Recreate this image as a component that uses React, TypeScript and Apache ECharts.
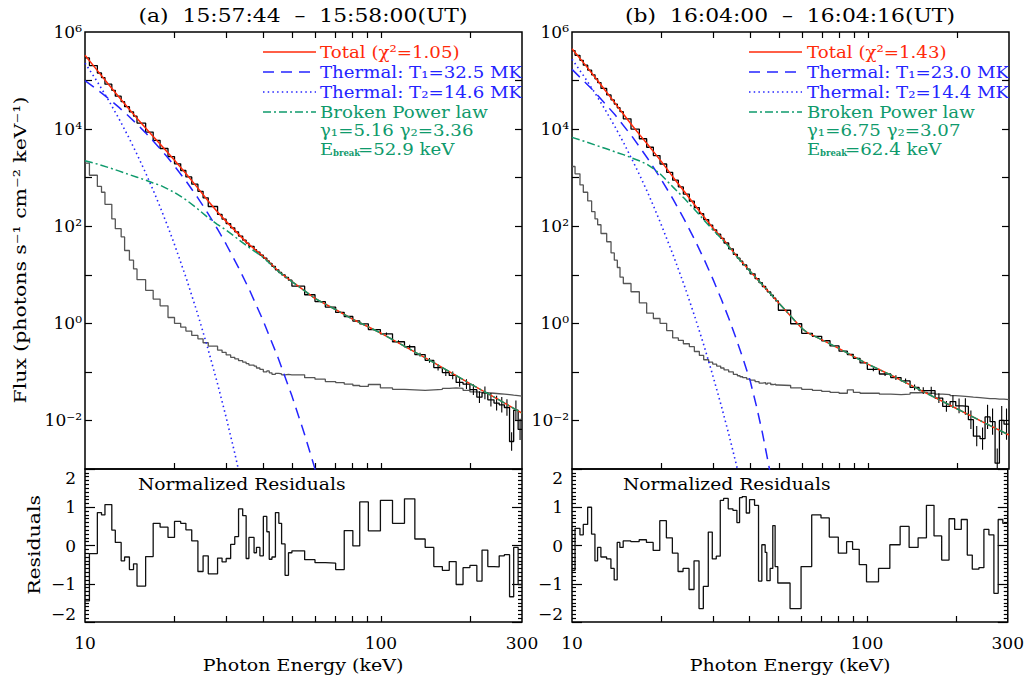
import React, { useEffect, useRef } from "react";
import * as echarts from "echarts";

const SERIF = '"DejaVu Serif", "Liberation Serif", serif';
const RED = "#ff2a0a";
const BLUE = "#2424ff";
const GREEN = "#0f9a6c";
const GRAY = "#555555";

// ---------- axis ranges, ticks / labels ----------
const energyRange = [10, 300];
const fluxRange = [0.001, 1e6];
const residRange = [-2, 2];
const energyTickValues = [10, 100, 300];
const energyTickLabels = ["10", "100", "300"];
const energyTicks = [20, 30, 40, 50, 60, 70, 80, 90, 100, 200];
const fluxLabelExponents = [-2, 0, 2, 4, 6];
const fluxTickLabels = ["10⁻²", "10⁰", "10²", "10⁴", "10⁶"];
const fluxTicks = [0.01, 0.1, 1, 10, 100, 1000, 10000, 100000];
const residTickValues = [-2, -1, 0, 1, 2];
const residTickLabels = ["−2", "−1", "0", "1", "2"];

// ---------- panel (a) ----------
const titleA = "(a)  15:57:44  –  15:58:00(UT)";
const binEdgesA = [10, 10.35, 11.01, 11.37, 11.68, 12.32, 12.66, 13.25, 13.61, 14.13, 14.59, 14.99, 16.03, 17.0, 17.94, 19.08, 20.07, 21.06, 21.93, 22.95, 24.08, 25.07, 26.1, 28.06, 29.06, 30.0, 31.07, 32.08, 33.04, 34.12, 35.05, 35.81, 37.28, 37.98, 39.01, 40.07, 41.17, 41.95, 42.85, 44.02, 45.21, 46.19, 47.45, 48.73, 50.05, 55.26, 59.9, 64.91, 70.35, 75.2, 80.42, 84.85, 90.73, 99.66, 109.5, 120.2, 130.3, 141.2, 151.0, 161.4, 170.3, 179.7, 189.6, 200.0, 211.1, 219.8, 229.9, 241.3, 251.2, 261.5, 272.3, 281.2, 291.1, 300];
// log10 of flux (photons s^-1 cm^-2 keV^-1)
const observedLogA = [5.467, 5.309, 5.156, 5.062, 4.925, 4.798, 4.679, 4.566, 4.463, 4.357, 4.266, 4.124, 3.938, 3.77, 3.601, 3.434, 3.286, 3.148, 3.015, 2.865, 2.719, 2.584, 2.406, 2.242, 2.146, 2.055, 1.967, 1.884, 1.798, 1.713, 1.652, 1.587, 1.519, 1.468, 1.405, 1.343, 1.286, 1.235, 1.172, 1.101, 1.047, 0.999, 0.944, 0.888, 0.765, 0.589, 0.449, 0.335, 0.225, 0.141, 0.048, -0.011, -0.128, -0.217, -0.379, -0.482, -0.644, -0.762, -0.912, -1.014, -1.073, -1.216, -1.253, -1.367, -1.521, -1.432, -1.575, -1.643, -1.678, -1.733, -2.434, -1.79, -2.185];
const backgroundLogA = [3.3, 3.05, 2.82, 2.7, 2.45, 2.15, 1.95, 1.78, 1.5, 1.3, 1.12, 0.9, 0.68, 0.5, 0.36, 0.12, 0.0, -0.08, -0.16, -0.25, -0.32, -0.4, -0.47, -0.55, -0.6, -0.65, -0.7, -0.73, -0.77, -0.8, -0.83, -0.86, -0.88, -0.92, -0.95, -1.0, -0.98, -1.02, -1.05, -1.03, -1.04, -1.06, -1.05, -1.06, -1.06, -1.12, -1.15, -1.2, -1.22, -1.25, -1.28, -1.3, -1.26, -1.33, -1.36, -1.37, -1.38, -1.37, -1.36, -1.34, -1.33, -1.34, -1.38, -1.41, -1.42, -1.43, -1.44, -1.45, -1.46, -1.47, -1.48, -1.49, -1.5];
const residualsA = [-1.45, -0.21, 0.86, 0.8, 1.07, 0.4, 0.08, -0.4, -0.3, -0.63, -0.48, -1.06, -0.29, 0.58, 0.48, 0.21, 0.63, 0.58, 0.41, 0.12, -0.68, -0.27, -0.74, -0.33, -0.43, -0.34, 0.03, 0.23, 0.96, 0.78, -0.34, 0.21, -0.19, -0.05, -0.27, 0.76, 0.36, -0.36, -0.3, 0.86, 0.58, 0.04, -0.78, -0.19, -0.14, -0.37, -0.45, -0.46, -0.63, 0.39, -0.01, 1.14, 0.38, 1.18, 0.58, 1.22, 0.17, -0.05, -0.55, -0.65, -0.42, -1.02, -0.58, -0.52, -0.93, -0.12, -0.55, -0.56, -0.27, -0.24, -1.34, -0.05, -1.02];
const errorBarStartA = 53;
const errorLogA = [0.03, 0.03, 0.04, 0.04, 0.05, 0.06, 0.07, 0.08, 0.09, 0.1, 0.11, 0.12, 0.13, 0.14, 0.15, 0.16, 0.17, 0.19, 0.2, 0.22];
const modelEnergyA = [10, 11, 12, 13, 14, 15, 16, 17, 18, 19, 20, 22, 24, 26, 28, 30, 35, 40, 45, 50, 55, 60, 70, 80, 100, 120, 150, 200, 250, 300];
const totalLogA = [5.52, 5.21, 4.925, 4.666, 4.433, 4.221, 4.027, 3.848, 3.681, 3.521, 3.368, 3.075, 2.795, 2.528, 2.297, 2.1, 1.678, 1.381, 1.077, 0.862, 0.68, 0.51, 0.29, 0.09, -0.2, -0.47, -0.8, -1.24, -1.57, -1.85];
const powerLawLogA = [3.35, 3.28, 3.21, 3.14, 3.07, 3.01, 2.95, 2.89, 2.84, 2.77, 2.7, 2.54, 2.36, 2.18, 2.04, 1.92, 1.61, 1.36, 1.07, 0.86, 0.68, 0.51, 0.29, 0.09, -0.2, -0.47, -0.8, -1.24, -1.57, -1.85];
const thermal1EnergyA = [10, 11, 12, 13, 14, 15, 16, 17, 18, 19, 20, 22, 24, 26, 28, 30, 33, 36, 40, 45, 50, 55, 60, 65];
const thermal1LogA = [5.0, 4.814, 4.631, 4.452, 4.275, 4.1, 3.928, 3.757, 3.587, 3.419, 3.252, 2.921, 2.594, 2.27, 1.948, 1.629, 1.153, 0.682, 0.057, -0.718, -1.487, -2.252, -3.013, -3.771];
const thermal2EnergyA = [10, 11, 12, 13, 14, 15, 16, 17, 18, 19, 20, 22, 24, 26, 28, 30, 32, 34];
const thermal2LogA = [5.36, 4.978, 4.599, 4.223, 3.85, 3.479, 3.11, 2.743, 2.377, 2.012, 1.649, 0.926, 0.206, -0.511, -1.225, -1.937, -2.647, -3.356];
const legendA = ["Total (χ²=1.05)", "Thermal: T₁=32.5 MK", "Thermal: T₂=14.6 MK", "Broken Power law", "γ₁=5.16 γ₂=3.36", "=52.9 keV"];

// ---------- panel (b) ----------
const titleB = "(b)  16:04:00  –  16:04:16(UT)";
const binEdgesB = [10, 10.24, 10.64, 10.92, 11.3, 11.65, 11.96, 12.21, 12.53, 13.1, 13.55, 13.9, 14.23, 14.53, 14.91, 15.83, 16.89, 17.88, 18.84, 19.84, 20.89, 21.89, 22.88, 23.79, 24.93, 25.92, 26.95, 27.87, 28.97, 29.89, 30.83, 31.81, 32.65, 33.85, 35.11, 36.22, 36.98, 37.76, 38.96, 39.98, 41.57, 42.88, 44.0, 45.16, 45.75, 46.95, 47.93, 48.81, 49.84, 54.84, 59.76, 64.94, 69.82, 74.49, 79.92, 85.27, 89.35, 94.11, 99.6, 109.4, 119.5, 129.5, 138.9, 149.0, 159.0, 168.7, 179.1, 189.7, 198.2, 208.7, 218.7, 227.4, 239.5, 249.0, 258.9, 269.2, 278.4, 288.6, 300];
const observedLogB = [5.618, 5.52, 5.416, 5.317, 5.213, 5.117, 5.037, 4.958, 4.838, 4.704, 4.602, 4.516, 4.44, 4.359, 4.212, 4.0, 3.801, 3.626, 3.455, 3.281, 3.109, 2.949, 2.809, 2.662, 2.515, 2.382, 2.258, 2.136, 2.024, 1.926, 1.836, 1.75, 1.654, 1.535, 1.421, 1.341, 1.28, 1.202, 1.115, 1.02, 0.921, 0.837, 0.759, 0.702, 0.646, 0.578, 0.521, 0.462, 0.269, -0.009, -0.205, -0.268, -0.359, -0.465, -0.573, -0.642, -0.72, -0.815, -0.947, -1.043, -1.117, -1.187, -1.319, -1.386, -1.385, -1.539, -1.711, -1.611, -1.7, -1.711, -1.984, -2.323, -2.376, -1.928, -2.025, -2.88, -2.0, -2.076];
const backgroundLogB = [3.23, 3.08, 2.85, 2.7, 2.52, 2.3, 2.15, 2.03, 1.85, 1.68, 1.45, 1.3, 1.15, 0.95, 0.82, 0.65, 0.42, 0.21, 0.1, 0.0, -0.15, -0.3, -0.35, -0.42, -0.48, -0.58, -0.66, -0.75, -0.8, -0.84, -0.88, -0.92, -0.96, -1.0, -1.05, -1.08, -1.1, -1.12, -1.15, -1.17, -1.2, -1.23, -1.22, -1.25, -1.23, -1.26, -1.25, -1.27, -1.28, -1.33, -1.36, -1.38, -1.4, -1.42, -1.44, -1.37, -1.42, -1.44, -1.44, -1.46, -1.47, -1.46, -1.43, -1.42, -1.44, -1.46, -1.47, -1.49, -1.5, -1.51, -1.52, -1.53, -1.54, -1.55, -1.55, -1.56, -1.56, -1.57];
const residualsB = [-0.65, 0.45, 0.28, 0.55, 1.0, 0.3, -0.4, -0.05, -0.3, -0.35, -0.6, -0.9, 0.08, -0.05, 0.12, 0.1, 0.15, 0.08, -0.13, 0.65, 0.2, -0.2, -0.68, -0.6, -1.15, -0.4, -1.65, -1.07, 0.35, -0.35, -0.28, 1.18, 1.23, 0.96, 0.92, 0.6, 1.25, 1.28, 0.85, 1.2, 1.05, -0.93, 0.02, -0.18, -0.92, -0.6, 0.52, -0.55, -0.98, -1.65, -0.55, 0.8, 0.72, 0.22, -0.2, 0.1, -0.1, -0.5, -0.95, -0.6, 0.02, 0.5, -0.05, 0.2, 1.05, 0.25, -0.38, 0.7, 0.42, 0.68, -0.25, -0.62, -0.58, 0.42, 0.28, -1.25, 0.68, 0.58];
const errorBarStartB = 58;
const errorLogB = [0.04, 0.04, 0.05, 0.05, 0.06, 0.07, 0.08, 0.1, 0.11, 0.13, 0.15, 0.17, 0.19, 0.21, 0.23, 0.25, 0.27, 0.3, 0.3, 0.32];
const modelEnergyB = [10, 11, 12, 13, 14, 15, 16, 17, 18, 19, 20, 22, 24, 26, 28, 30, 33, 36, 40, 45, 50, 55, 60, 62.4, 70, 80, 100, 120, 150, 200, 250, 300];
const totalLogB = [5.655, 5.349, 5.059, 4.786, 4.53, 4.292, 4.069, 3.871, 3.688, 3.511, 3.341, 3.005, 2.71, 2.436, 2.183, 1.96, 1.678, 1.388, 1.073, 0.73, 0.42, 0.14, -0.11, -0.19, -0.34, -0.52, -0.84, -1.07, -1.37, -1.76, -2.06, -2.3];
const powerLawLogB = [3.83, 3.75, 3.67, 3.6, 3.53, 3.47, 3.4, 3.34, 3.27, 3.17, 3.06, 2.8, 2.57, 2.34, 2.12, 1.92, 1.66, 1.38, 1.07, 0.73, 0.42, 0.14, -0.11, -0.19, -0.34, -0.52, -0.84, -1.07, -1.37, -1.76, -2.06, -2.3];
const thermal1EnergyB = [10, 12, 14, 16, 18, 20, 22, 24, 26, 28, 30, 32, 34, 36, 38, 40, 42, 44, 46, 48];
const thermal1LogB = [5.23, 4.75, 4.29, 3.84, 3.4, 2.97, 2.55, 2.13, 1.72, 1.31, 0.9, 0.49, 0.08, -0.34, -0.76, -1.18, -1.7, -2.25, -2.85, -3.45];
const thermal2EnergyB = [10, 11, 12, 13, 14, 15, 16, 17, 18, 19, 20, 22, 24, 26, 28, 30, 32, 34, 36, 38];
const thermal2LogB = [5.44, 5.08, 4.73, 4.38, 4.04, 3.7, 3.36, 3.03, 2.7, 2.37, 2.04, 1.4, 0.77, 0.14, -0.48, -1.1, -1.71, -2.32, -2.93, -3.54];
const legendB = ["Total (χ²=1.43)", "Thermal: T₁=23.0 MK", "Thermal: T₂=14.4 MK", "Broken Power law", "γ₁=6.75 γ₂=3.07", "=62.4 keV"];

const yTitle = "Flux (photons s⁻¹ cm⁻² keV⁻¹)";
const residYTitle = "Residuals";
const xTitle = "Photon Energy (keV)";
const residNote = "Normalized Residuals";

// ---------- helpers ----------
const stepLog = (edges: number[], logs: number[]) => {
  const d: number[][] = logs.map((v, i) => [edges[i], Math.pow(10, v)]);
  d.push([edges[edges.length - 1], Math.pow(10, logs[logs.length - 1])]);
  return d;
};
const stepLin = (edges: number[], vals: number[]) => {
  const d: number[][] = vals.map((v, i) => [edges[i], v]);
  d.push([edges[edges.length - 1], vals[vals.length - 1]]);
  return d;
};
const curve = (es: number[], logs: number[]) => es.map((e, i) => [e, Math.pow(10, logs[i])]);
// vertical error bars as one broken line: low, high, gap, ...
const errorBarLine = (edges: number[], logs: number[], start: number, errs: number[]) => {
  const out: any[] = [];
  errs.forEach((er, k) => {
    const i = start + k;
    const c = Math.sqrt(edges[i] * edges[i + 1]);
    out.push([c, Math.max(Math.pow(10, logs[i] - er), 1.02e-3)]);
    out.push([c, Math.pow(10, logs[i] + er)]);
    out.push([c, null]);
  });
  return out;
};

const T = (text: string, x: number, y: number, o: any = {}) => ({
  type: "text",
  x,
  y,
  rotation: o.rot || 0,
  scaleX: o.sx ?? 1.1,
  silent: true,
  style: {
    text,
    fill: o.color || "#000",
    fontSize: o.size || 17,
    fontFamily: SERIF,
    fontWeight: o.weight || "normal",
    align: o.align || "left",
    verticalAlign: "middle",
  },
});
const L = (x1: number, x2: number, y: number, color: string, dash: number[] | null) => ({
  type: "line",
  silent: true,
  shape: { x1, y1: y, x2, y2: y },
  style: { stroke: color, lineWidth: 1.5, lineDash: dash || undefined },
});

const DASH = [11, 7];
const DOT = [1.5, 3.2];
const DASHDOT = [8, 3, 2, 3];

const legendGraphics = (lx1: number, lx2: number, tx: number, texts: string[]) => {
  const rows = [52, 72, 92, 112, 130, 149];
  return [
    L(lx1, lx2, rows[0], RED, null),
    T(texts[0], tx, rows[0], { color: RED, sx: 1.07 }),
    L(lx1, lx2, rows[1], BLUE, DASH),
    T(texts[1], tx, rows[1], { color: BLUE, sx: 1.07 }),
    L(lx1, lx2, rows[2], BLUE, DOT),
    T(texts[2], tx, rows[2], { color: BLUE, sx: 1.07 }),
    L(lx1, lx2, rows[3], GREEN, DASHDOT),
    T(texts[3], tx, rows[3], { color: GREEN, sx: 1.07 }),
    T(texts[4], tx, rows[4], { color: GREEN, sx: 1.07 }),
    T("E", tx, rows[5], { color: GREEN, sx: 1.07 }),
    T("break", tx + 13, rows[5] + 4, { color: GREEN, sx: 1.0, size: 8.5, weight: "bold" }),
    T(texts[5], tx + 38, rows[5], { color: GREEN, sx: 1.07 }),
  ];
};

const TICK_LINE = { color: "#000", width: 1.2 };
const NO_LINE = { show: false, onZero: false };

const xAx = (gridIndex: number, labels: boolean, position: string) => ({
  type: "log",
  logBase: 10,
  gridIndex,
  position,
  min: energyRange[0],
  max: energyRange[1],
  axisLine: NO_LINE,
  axisTick: { show: true, inside: true, length: 6, lineStyle: TICK_LINE, customValues: energyTicks },
  splitLine: { show: false },
  minorTick: { show: false },
  axisLabel: labels
    ? {
        show: true,
        fontSize: 17,
        fontFamily: SERIF,
        color: "#000",
        margin: 12,
        showMinLabel: true,
        showMaxLabel: true,
        formatter: (v: number) => {
          const i = energyTickValues.findIndex((t) => Math.abs(Math.log10(t) - Math.log10(v)) < 0.01);
          return i >= 0 ? energyTickLabels[i] : "";
        },
      }
    : { show: false },
});
const fluxAx = (gridIndex: number, labels: boolean, position: string) => ({
  type: "log",
  logBase: 10,
  gridIndex,
  position,
  min: fluxRange[0],
  max: fluxRange[1],
  splitNumber: 9,
  axisLine: NO_LINE,
  axisTick: { show: true, inside: true, length: 7, lineStyle: TICK_LINE, customValues: fluxTicks },
  splitLine: { show: false },
  minorTick: { show: false },
  axisLabel: labels
    ? {
        fontSize: 17,
        fontFamily: SERIF,
        color: "#000",
        margin: 3,
        showMinLabel: true,
        showMaxLabel: true,
        formatter: (v: number) => {
          const e = Math.round(Math.log10(v));
          const i = fluxLabelExponents.indexOf(e);
          return i >= 0 ? fluxTickLabels[i] : "";
        },
      }
    : { show: false },
});
const residAx = (gridIndex: number, labels: boolean, position: string) => ({
  type: "value",
  gridIndex,
  position,
  min: residRange[0],
  max: residRange[1],
  interval: 1,
  axisLine: NO_LINE,
  axisTick: { show: true, inside: true, length: 10, lineStyle: TICK_LINE },
  minorTick: { show: true, splitNumber: 10, length: 4, lineStyle: TICK_LINE },
  splitLine: { show: false },
  axisLabel: labels
    ? {
        fontSize: 17,
        fontFamily: SERIF,
        color: "#000",
        margin: 9,
        showMinLabel: true,
        showMaxLabel: true,
        verticalAlignMaxLabel: "top",
        verticalAlignMinLabel: "bottom",
        formatter: (v: number) => {
          const i = residTickValues.indexOf(Math.round(v));
          return i >= 0 ? residTickLabels[i] : "";
        },
      }
    : { show: false },
});

const panelSeries = (
  ti: number,
  ri: number,
  edges: number[],
  obs: number[],
  bg: number[],
  res: number[],
  errStart: number,
  errs: number[],
  mE: number[],
  total: number[],
  pl: number[],
  t1E: number[],
  t1: number[],
  t2E: number[],
  t2: number[]
) => {
  const base = { type: "line", symbol: "none", silent: true, xAxisIndex: ti, yAxisIndex: ti, clip: true };
  return [
    { ...base, name: "background", step: "end", data: stepLog(edges, bg), lineStyle: { color: GRAY, width: 1.3 } },
    { ...base, name: "observed", step: "end", data: stepLog(edges, obs), lineStyle: { color: "#000", width: 1.3 } },
    { ...base, name: "errors", connectNulls: false, data: errorBarLine(edges, obs, errStart, errs), lineStyle: { color: "#000", width: 1.1 } },
    { ...base, name: "total", data: curve(mE, total), lineStyle: { color: RED, width: 1.5 } },
    { ...base, name: "thermal1", data: curve(t1E, t1), lineStyle: { color: BLUE, width: 1.5, type: DASH } },
    { ...base, name: "thermal2", data: curve(t2E, t2), lineStyle: { color: BLUE, width: 1.6, type: DOT } },
    { ...base, name: "powerlaw", data: curve(mE, pl), lineStyle: { color: GREEN, width: 1.5, type: DASHDOT } },
    {
      type: "line",
      name: "residuals",
      symbol: "none",
      silent: true,
      xAxisIndex: ri,
      yAxisIndex: ri,
      step: "end",
      data: stepLin(edges, res),
      lineStyle: { color: "#111", width: 1.3 },
    },
  ];
};

export default function App() {
  const ref = useRef<HTMLDivElement>(null);
  useEffect(() => {
    if (!ref.current) return;
    const chart = echarts.init(ref.current, null, { renderer: "svg" });
    const gridStyle = { show: true, borderColor: "#000", borderWidth: 1.5, backgroundColor: "transparent" };
    const option: any = {
      animation: false,
      backgroundColor: "#fff",
      textStyle: { fontFamily: SERIF },
      grid: [
        { ...gridStyle, left: 85, top: 32, width: 437, height: 437 },
        { ...gridStyle, left: 85, top: 469, width: 437, height: 153 },
        { ...gridStyle, left: 572, top: 32, width: 437, height: 437 },
        { ...gridStyle, left: 572, top: 469, width: 437, height: 153 },
      ],
      xAxis: [
        xAx(0, false, "bottom"),
        xAx(1, true, "bottom"),
        xAx(2, false, "bottom"),
        xAx(3, true, "bottom"),
        xAx(0, false, "top"),
        xAx(2, false, "top"),
      ],
      yAxis: [
        fluxAx(0, true, "left"),
        residAx(1, true, "left"),
        fluxAx(2, true, "left"),
        residAx(3, true, "left"),
        fluxAx(0, false, "right"),
        residAx(1, false, "right"),
        fluxAx(2, false, "right"),
        residAx(3, false, "right"),
      ],
      series: [
        ...panelSeries(0, 1, binEdgesA, observedLogA, backgroundLogA, residualsA, errorBarStartA, errorLogA, modelEnergyA, totalLogA, powerLawLogA, thermal1EnergyA, thermal1LogA, thermal2EnergyA, thermal2LogA),
        ...panelSeries(2, 3, binEdgesB, observedLogB, backgroundLogB, residualsB, errorBarStartB, errorLogB, modelEnergyB, totalLogB, powerLawLogB, thermal1EnergyB, thermal1LogB, thermal2EnergyB, thermal2LogB),
      ],
      graphic: {
        elements: [
          T(titleA, 303, 16, { size: 19, sx: 1.15, align: "center" }),
          T(titleB, 790, 16, { size: 19, sx: 1.15, align: "center" }),
          T(yTitle, 20, 250, { rot: Math.PI / 2, sx: 1.2, align: "center" }),
          T(residYTitle, 34, 545, { rot: Math.PI / 2, sx: 1.2, align: "center" }),
          T(xTitle, 303, 665, { sx: 1.12, align: "center" }),
          T(xTitle, 790, 665, { sx: 1.12, align: "center" }),
          T(residNote, 138, 484, { sx: 1.1 }),
          T(residNote, 623, 484, { sx: 1.1 }),
          ...legendGraphics(263, 316, 320, legendA),
          ...legendGraphics(749, 802, 807, legendB),
        ],
      },
    };
    chart.setOption(option);
    return () => chart.dispose();
  }, []);
  return <div ref={ref} style={{ position: "absolute", left: 0, top: 0, width: 1027, height: 679 }} />;
}
